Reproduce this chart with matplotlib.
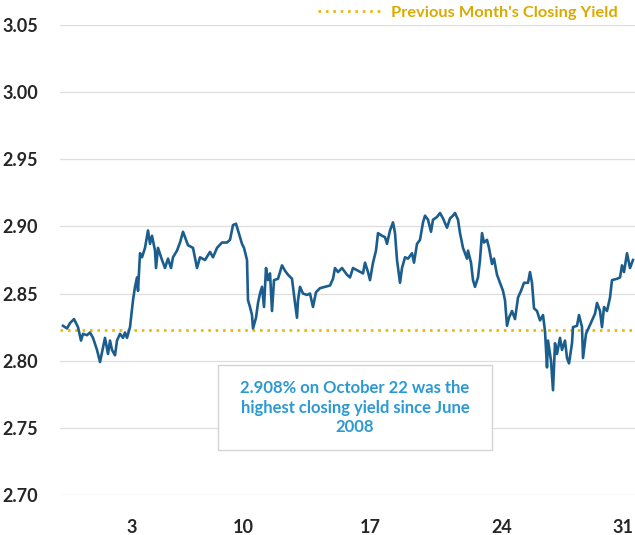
import matplotlib
matplotlib.use("Agg")
import matplotlib.pyplot as plt
from matplotlib.patches import Rectangle

plt.rcParams['font.family'] = ['Lato', 'DejaVu Sans']

# intraday yield, x = observation index through the month
obs = [3, 7, 10, 14, 18, 21, 23, 27, 30, 33,
       37, 40, 43, 45, 48, 50, 52, 55, 57, 60,
       63, 65, 67, 70, 73, 75, 77, 78, 80, 82,
       85, 88, 90, 92, 95, 96, 98, 102, 105, 108,
       111, 113, 117, 120, 123, 125, 128, 133, 137, 140,
       145, 150, 153, 157, 162, 167, 170, 173, 176, 178,
       182, 184, 187, 188, 190, 192, 193, 196, 198, 200,
       202, 204, 206, 208, 210, 212, 214, 218, 222, 225,
       228, 232, 235, 237, 238, 240, 243, 247, 250, 253,
       256, 260, 265, 270, 273, 275, 278, 282, 287, 290,
       293, 298, 303, 305, 308, 310, 312, 313, 316, 318,
       322, 325, 327, 330, 333, 335, 337, 340, 342, 345,
       348, 352, 354, 357, 360, 363, 365, 368, 371, 373,
       377, 380, 383, 387, 390, 393, 395, 398, 400, 403,
       407, 408, 411, 413, 415, 418, 420, 422, 424, 427,
       429, 432, 434, 437, 440, 443, 445, 447, 449, 452,
       455, 458, 461, 464, 468, 470, 472, 474, 477, 480,
       483, 485, 487, 488, 491, 493, 495, 497, 500, 502,
       505, 507, 509, 512, 513, 517, 519, 522, 523, 526,
       529, 532, 535, 537, 540, 542, 544, 547, 550, 552,
       557, 560, 562, 564, 567, 570, 573]
yld = [2.826, 2.824, 2.828, 2.831, 2.825, 2.815, 2.820, 2.819, 2.821, 2.817,
       2.808, 2.799, 2.810, 2.817, 2.805, 2.815, 2.808, 2.804, 2.815, 2.820,
       2.817, 2.821, 2.817, 2.825, 2.845, 2.855, 2.862, 2.852, 2.880, 2.877,
       2.884, 2.897, 2.887, 2.893, 2.882, 2.869, 2.884, 2.875, 2.869, 2.876,
       2.869, 2.877, 2.882, 2.888, 2.896, 2.892, 2.886, 2.884, 2.869, 2.877,
       2.875, 2.881, 2.877, 2.884, 2.888, 2.888, 2.890, 2.901, 2.902, 2.897,
       2.887, 2.884, 2.875, 2.845, 2.840, 2.834, 2.824, 2.832, 2.843, 2.850,
       2.855, 2.840, 2.869, 2.860, 2.865, 2.837, 2.860, 2.861, 2.871, 2.867,
       2.864, 2.861, 2.843, 2.832, 2.845, 2.855, 2.850, 2.849, 2.850, 2.840,
       2.851, 2.854, 2.855, 2.856, 2.861, 2.869, 2.866, 2.869, 2.864, 2.862,
       2.869, 2.867, 2.865, 2.873, 2.866, 2.860, 2.869, 2.873, 2.882, 2.895,
       2.893, 2.892, 2.887, 2.897, 2.903, 2.895, 2.875, 2.858, 2.869, 2.877,
       2.876, 2.880, 2.873, 2.887, 2.890, 2.903, 2.908, 2.905, 2.896, 2.905,
       2.907, 2.910, 2.906, 2.899, 2.906, 2.908, 2.910, 2.905, 2.895, 2.884,
       2.876, 2.882, 2.873, 2.860, 2.855, 2.862, 2.875, 2.895, 2.888, 2.890,
       2.884, 2.872, 2.876, 2.864, 2.858, 2.852, 2.845, 2.826, 2.832, 2.837,
       2.831, 2.847, 2.852, 2.858, 2.858, 2.866, 2.858, 2.839, 2.837, 2.830,
       2.834, 2.822, 2.795, 2.815, 2.800, 2.778, 2.813, 2.805, 2.817, 2.808,
       2.815, 2.802, 2.798, 2.813, 2.825, 2.826, 2.834, 2.825, 2.802, 2.820,
       2.825, 2.830, 2.835, 2.843, 2.837, 2.825, 2.840, 2.837, 2.847, 2.860,
       2.861, 2.862, 2.871, 2.866, 2.880, 2.869, 2.875]
prev_close = 2.823

tick_pos = [72, 183, 310, 442, 563]
tick_labels = ['3', '10', '17', '24', '31']
y_ticks = [2.70, 2.75, 2.80, 2.85, 2.90, 2.95, 3.00, 3.05]

note = "2.908% on October 22 was the\nhighest closing yield since June\n2008"

fig = plt.figure(figsize=(6.35, 5.35), dpi=100)
ax = fig.add_axes([0.0945, 0.0748, 0.9055, 0.8785])

ax.plot(obs, yld, color='#1b5e8e', lw=1.9, zorder=3)
ax.axhline(prev_close, color='#e8b900', lw=1.9, linestyle=(0, (1.0, 1.8)),
           label="Previous Month's Closing Yield", zorder=2)

ax.set_xlim(0, 575)
ax.set_ylim(2.70, 3.05)
ax.set_yticks(y_ticks)
ax.set_yticklabels([f"{v:.2f}" for v in y_ticks])
ax.set_xticks(tick_pos)
ax.set_xticklabels(tick_labels)
ax.tick_params(length=0, labelsize=13, colors='#262626')
ax.tick_params(axis='y', pad=16)
ax.tick_params(axis='x', pad=17)
for lab in ax.get_xticklabels() + ax.get_yticklabels():
    lab.set_fontweight('bold')

ax.grid(axis='y', color='#dedede', lw=0.9)
ax.set_axisbelow(True)
for s in ax.spines.values():
    s.set_visible(False)

leg = ax.legend(loc='center left', bbox_to_anchor=(0.4487, 1.0255), frameon=False,
                handlelength=3.9, handletextpad=0.55, borderaxespad=0, borderpad=0,
                prop={'weight': 'bold', 'size': 11.8}, labelcolor='#d9aa00')

ax.add_patch(Rectangle((0.275, 0.0957), 0.4765, 0.181, transform=ax.transAxes,
                       facecolor='white', edgecolor='#d4d4d4', lw=1.0, zorder=4))
ax.text(0.513, 0.186, note, transform=ax.transAxes, ha='center', va='center',
        color='#2b9ad3', fontsize=12, fontweight='bold', linespacing=1.3, zorder=5)

fig.savefig('out.png', dpi=100)
